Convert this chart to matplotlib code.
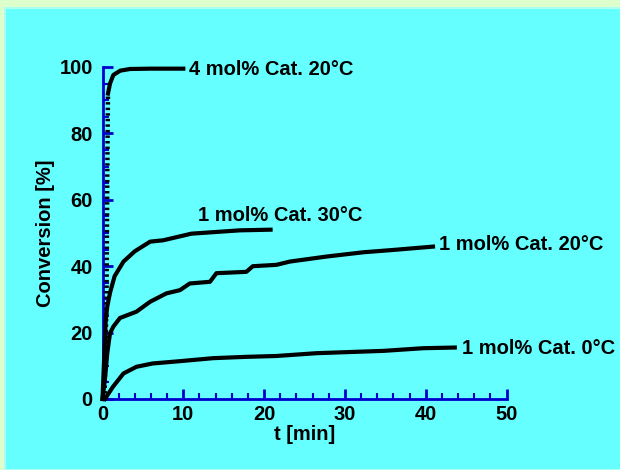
import matplotlib
matplotlib.use("Agg")
import matplotlib.pyplot as plt
from matplotlib.patches import Rectangle
from matplotlib.ticker import MultipleLocator

plt.rcParams['font.family'] = ['Liberation Sans', 'DejaVu Sans']
plt.rcParams['font.weight'] = 'bold'

# Data
t_4_20 = [0.25, 0.5, 0.6, 0.68, 0.93, 1.34, 2.2, 3.4, 6.0, 10.0]
c_4_20 = [0.0, 30.0, 70.0, 92.0, 95.0, 97.6, 98.9, 99.4, 99.5, 99.5]
n_dotted = 4  # first points drawn as the dotted rise

t_1_30 = [0.0, 0.2, 0.4, 0.6, 0.93, 1.5, 2.6, 4.0, 5.9, 7.5, 9.6, 11.0, 14.6, 17.0, 20.8]
c_1_30 = [0.0, 12.0, 24.0, 28.0, 32.0, 37.0, 41.4, 44.5, 47.4, 47.8, 49.0, 49.8, 50.4, 50.8, 51.0]

t_1_20 = [0.0, 0.3, 0.6, 0.93, 1.34, 2.16, 4.2, 5.9, 7.9, 9.6, 10.8, 13.3, 14.1, 17.8, 18.6, 21.5,
          23.2, 27.7, 32.3, 36.0, 40.9]
c_1_20 = [0.0, 6.0, 14.0, 19.8, 21.8, 24.4, 26.3, 29.3, 31.8, 32.8, 34.8, 35.3, 37.9, 38.3, 40.0, 40.4,
          41.4, 42.9, 44.2, 44.9, 45.9]

t_1_0 = [0.3, 1.3, 2.6, 4.2, 6.2, 9.6, 13.7, 17.8, 21.5, 26.5, 34.8, 39.7, 43.6]
c_1_0 = [0.0, 3.7, 7.7, 9.7, 10.7, 11.4, 12.3, 12.7, 12.95, 13.8, 14.5, 15.3, 15.5]

labels = ["4 mol% Cat. 20°C", "1 mol% Cat. 30°C", "1 mol% Cat. 20°C", "1 mol% Cat. 0°C"]
label_pos = [(10.7, 99.2), (11.8, 55.4), (41.7, 46.4), (44.5, 15.3)]

x_ticks = [0, 10, 20, 30, 40, 50]
y_ticks = [0, 20, 40, 60, 80, 100]

W, H = 620, 470
fig = plt.figure(figsize=(W / 100, H / 100), dpi=100)
fig.patch.set_facecolor('#ddffcc')
fig.patches.append(Rectangle((5 / W, 0), 1, 1 - 8 / H, transform=fig.transFigure,
                             facecolor='#66ffff', edgecolor='#aaffee', linewidth=1.5, zorder=-10))

ax = fig.add_axes([102.5 / W, (H - 399) / H, 404 / W, 332 / H])
ax.set_zorder(5)
ax.set_facecolor('none')
ax.set_xlim(0, 50)
ax.set_ylim(0, 100)

black = '#000000'
lw = 3.0
ax.plot(t_4_20[:n_dotted], c_4_20[:n_dotted], color=black, lw=3.2, ls=(0, (0.55, 0.7)),
        dash_capstyle='butt', clip_on=False, zorder=6)
ax.plot(t_4_20[n_dotted - 1:], c_4_20[n_dotted - 1:], color=black, lw=lw, clip_on=False, zorder=6)
ax.plot(t_1_30, c_1_30, color=black, lw=lw, clip_on=False, zorder=6)
ax.plot(t_1_20, c_1_20, color=black, lw=lw, clip_on=False, zorder=6)
ax.plot(t_1_0, c_1_0, color=black, lw=lw, clip_on=False, zorder=6)

for lab, (x, y) in zip(labels, label_pos):
    ax.text(x, y, lab, ha='left', va='center', fontsize=14.5, fontweight='bold', color=black)

for s in ['top', 'right']:
    ax.spines[s].set_visible(False)
for s in ['left', 'bottom']:
    ax.spines[s].set_color('#0000cc')
    ax.spines[s].set_linewidth(2)

ax.set_xticks(x_ticks)
ax.set_yticks(y_ticks)
ax.xaxis.set_minor_locator(MultipleLocator(2))
ax.yaxis.set_minor_locator(MultipleLocator(5))
ax.tick_params(which='major', direction='in', length=7, width=2, color='#0000cc',
               labelsize=14.5)
ax.tick_params(which='minor', direction='in', length=4, width=1.5, color='#0000cc')
ax.tick_params(axis='x', which='major', pad=4)
ax.tick_params(axis='y', which='major', pad=7)
for lab in ax.get_xticklabels() + ax.get_yticklabels():
    lab.set_fontweight('bold')

ax.set_xlabel('t [min]', fontsize=14.5, fontweight='bold')
ax.set_ylabel('Conversion [%]', fontsize=14.5, fontweight='bold')
ax.xaxis.set_label_coords(0.5, -(434 - 399) / 332)
ax.yaxis.set_label_coords(-(102.5 - 46) / 404, 0.5)
ax.xaxis.label.set_va('center')
ax.yaxis.label.set_va('center')

fig.savefig('out.png', dpi=100, facecolor=fig.get_facecolor())
